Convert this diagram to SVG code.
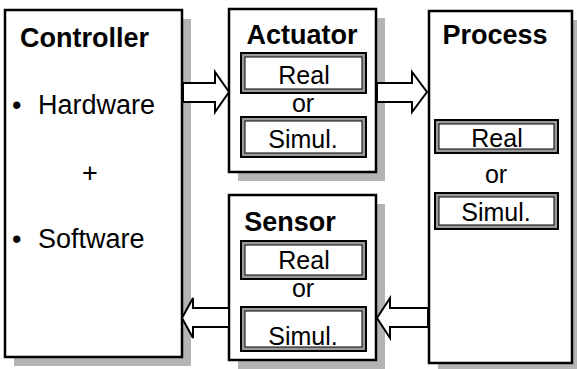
<svg xmlns="http://www.w3.org/2000/svg" width="577" height="369" viewBox="0 0 577 369">
<style>
.box{fill:#fff;stroke:#000;stroke-width:2.5}
.sh{fill:#b4b4b4}
.title{font-family:"Liberation Sans",Arial,sans-serif;font-weight:bold;font-size:27px;fill:#000}
.txt{font-family:"Liberation Sans",Arial,sans-serif;font-size:27px;fill:#000}
.in{font-family:"Liberation Sans",Arial,sans-serif;font-size:25px;fill:#000;text-anchor:middle}
.ib{fill:#9a9a9a;stroke:#000;stroke-width:2}
.ii{fill:#fff;stroke:#000;stroke-width:1}
.arr{fill:#fff;stroke:#000;stroke-width:2;stroke-linejoin:miter}
</style>
<rect width="577" height="369" fill="#fff"/>
<g id="controller">
<rect class="sh" x="14" y="19" width="177" height="347"/>
<rect class="box" x="5" y="10" width="177" height="347"/>
<text class="title" x="20" y="47">Controller</text>
<text class="txt" x="12" y="114">•</text>
<text class="txt" x="38" y="114">Hardware</text>
<text class="txt" x="90" y="182" text-anchor="middle">+</text>
<text class="txt" x="12" y="248">•</text>
<text class="txt" x="38" y="248">Software</text>
</g>
<g id="actuator">
<rect class="sh" x="238" y="18" width="147" height="163"/>
<rect class="box" x="229" y="9" width="147" height="163"/>
<text class="title" x="302" y="44" text-anchor="middle">Actuator</text>
<rect class="ib" x="241" y="53" width="125" height="40"/>
<rect class="ii" x="245" y="57" width="117" height="32"/>
<text class="in" x="304" y="84">Real</text>
<text class="in" x="303" y="112">or</text>
<rect class="ib" x="241" y="117" width="125" height="40"/>
<rect class="ii" x="245" y="121" width="117" height="32"/>
<text class="in" x="303" y="148">Simul.</text>
</g>
<g id="sensor">
<rect class="sh" x="238" y="204" width="147" height="165"/>
<rect class="box" x="229" y="195" width="147" height="165"/>
<text class="title" x="290" y="231" text-anchor="middle">Sensor</text>
<rect class="ib" x="241" y="241" width="125" height="38"/>
<rect class="ii" x="245" y="245" width="117" height="30"/>
<text class="in" x="304" y="269">Real</text>
<text class="in" x="303" y="297">or</text>
<rect class="ib" x="241" y="307" width="125" height="44"/>
<rect class="ii" x="245" y="311" width="117" height="36"/>
<text class="in" x="303" y="345">Simul.</text>
</g>
<g id="process">
<rect class="sh" x="438" y="20" width="143" height="352"/>
<rect class="box" x="429" y="11" width="143" height="352"/>
<text class="title" x="495" y="44" text-anchor="middle">Process</text>
<rect class="ib" x="435" y="120" width="123" height="33"/>
<rect class="ii" x="439" y="124" width="115" height="25"/>
<text class="in" x="497" y="147">Real</text>
<text class="in" x="496" y="183">or</text>
<rect class="ib" x="435" y="193" width="123" height="36"/>
<rect class="ii" x="439" y="197" width="115" height="28"/>
<text class="in" x="496" y="221">Simul.</text>
</g>
<g id="connectors">
<polygon class="arr" points="183,83 215,83 215,72 229,92 215,112 215,102 183,102"/>
<polygon class="arr" points="377,83 412,83 412,72 427,92 412,112 412,102 377,102"/>
<polygon class="arr" points="428,308 390,308 390,298 377,318 390,338 390,327 428,327"/>
<polygon class="arr" points="229,308 193,308 193,298 182,318 193,338 193,327 229,327"/>
</g>
</svg>
